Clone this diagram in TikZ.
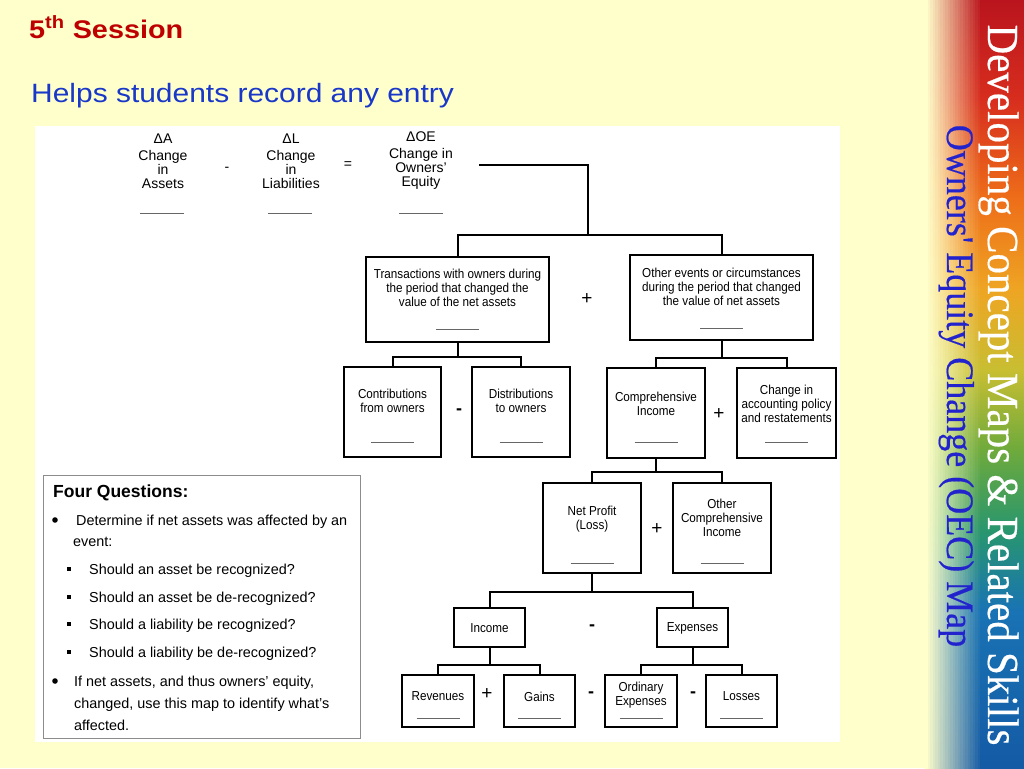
\documentclass[tikz,border=0pt]{standalone}
\usepackage{fontspec}
\usepackage{graphicx}
\setmainfont{Liberation Sans}
\newfontfamily\titlefont[FakeStretch=1.13]{Liberation Sans}
\newfontfamily\diagfont[FakeStretch=0.9]{Liberation Sans}
\newfontfamily\stripfont[FakeBold=0.4]{Liberation Serif}
\usetikzlibrary{calc}
\definecolor{bgY}{RGB}{255,255,204}
\definecolor{titleRed}{RGB}{190,0,0}
\definecolor{helpBlue}{RGB}{25,55,200}
\definecolor{stripBlue}{RGB}{35,35,205}
\definecolor{sA}{RGB}{185,20,30}
\definecolor{sB}{RGB}{215,45,30}
\definecolor{sC}{RGB}{238,110,25}
\definecolor{sD}{RGB}{238,165,35}
\definecolor{sE}{RGB}{200,190,50}
\definecolor{sF}{RGB}{110,170,60}
\definecolor{sG}{RGB}{40,150,110}
\definecolor{sH}{RGB}{25,115,180}
\definecolor{sI}{RGB}{20,90,165}
\pgfdeclareverticalshading{rainbowstrip}{100bp}{color(0bp)=(sI); color(25bp)=(sI); color(35.3bp)=(sH); color(40.5bp)=(sG); color(45.7bp)=(sF); color(50.9bp)=(sE); color(56.1bp)=(sD); color(62bp)=(sC); color(68.5bp)=(sB); color(75bp)=(sA); color(100bp)=(sA)}
\begin{document}
\begin{tikzpicture}[x=1pt,y=-1pt,
  box/.style={draw, line width=2pt, inner sep=0pt},
  conn/.style={line width=2pt},
  lbl/.style={align=center, inner sep=0pt, font=\diagfont\fontsize{13}{14}\selectfont},
  eqlbl/.style={align=center, inner sep=0pt, font=\fontsize{14}{14}\selectfont},
  plus/.style={inner sep=0pt, font=\fontsize{19}{19}\selectfont},
  minus/.style={inner sep=0pt, font=\bfseries\fontsize{18}{18}\selectfont},
  blank/.style={draw=black!60, line width=1pt},
  q/.style={anchor=base west, inner sep=0pt, font=\fontsize{14.4}{17}\selectfont},
]
\useasboundingbox (0,0) rectangle (1024,768);
\fill[bgY] (0,0) rectangle (1024,768);
% right strip
\shade[shading=rainbowstrip] (925,-2) rectangle (1024,770);
\foreach \i in {0,...,21} {
  \fill[bgY, opacity={1-\i/22}] ({925+\i*2.5},-2) rectangle ({927.6+\i*2.5},770);
}
\node[rotate=-90, anchor=base, inner sep=0pt, text=white, font=\stripfont\fontsize{41}{41}\selectfont] (strip1) at (988,385) {\scalebox{1}[1.08]{Developing Concept Maps \& Related Skills}};
\node[rotate=-90, anchor=base, inner sep=0pt, text=stripBlue, font=\stripfont\fontsize{36}{36}\selectfont] (strip2) at (947,386) {\scalebox{1}[1.08]{Owners' Equity Change (OEC) Map}};
% titles
\node[anchor=base west, inner sep=0pt, text=titleRed, font=\titlefont\bfseries\fontsize{25.5}{25.5}\selectfont] (sess) at (29,38) {5\textsuperscript{th} Session};
\node[anchor=base west, inner sep=0pt, text=helpBlue, font=\titlefont\fontsize{26.5}{26.5}\selectfont] (helps) at (31,102) {Helps students record any entry};
% white panel
\fill[white] (35,126) rectangle (840,742);
% top equation
\node[eqlbl] (dA) at (163,161) {ΔA\\[3pt]Change\\in\\Assets};
\node[eqlbl] (dL) at (291,161) {ΔL\\[3pt]Change\\in\\Liabilities};
\node[eqlbl] (dOE) at (421,161) {ΔOE\\[3pt]Change in\\Owners'\\Equity};
\node[eqlbl] (eqminus) at (227,169) {-};
\node[eqlbl] (eqeq) at (348,165) {=};
\draw[blank] (140,213) -- (184,213);
\draw[blank] (268,213) -- (312,213);
\draw[blank] (399,213) -- (443,213);
\coordinate (eqEnd) at (479,165);
\coordinate (topBar) at (588,235);
% boxes
\node[box, minimum width=183pt, minimum height=85pt] (T) at (457.5,299.5) {};
\node[box, minimum width=183pt, minimum height=85pt] (O) at (721.5,297.5) {};
\node[box, minimum width=97pt, minimum height=90pt] (C) at (392.5,412) {};
\node[box, minimum width=98pt, minimum height=90pt] (D) at (521,412) {};
\node[box, minimum width=98pt, minimum height=90pt] (CI) at (656,413) {};
\node[box, minimum width=99pt, minimum height=90pt] (CA) at (786.5,413) {};
\node[box, minimum width=98pt, minimum height=90pt] (NP) at (592,528) {};
\node[box, minimum width=98pt, minimum height=90pt] (OCI) at (722,528) {};
\node[box, minimum width=71pt, minimum height=39pt] (IN) at (489.5,627.5) {};
\node[box, minimum width=71pt, minimum height=39pt] (EX) at (692.5,627.5) {};
\node[box, minimum width=72pt, minimum height=52pt] (RV) at (438,701) {};
\node[box, minimum width=71pt, minimum height=52pt] (GA) at (539.5,701) {};
\node[box, minimum width=72pt, minimum height=52pt] (OE) at (641,701) {};
\node[box, minimum width=71pt, minimum height=52pt] (LO) at (741.5,701) {};
% box texts
\node[lbl] (Tt) at (457.5,288) {Transactions with owners during\\the period that changed the\\value of the net assets};
\node[lbl] (Ot) at (721.5,287) {Other events or circumstances\\during the period that changed\\the value of net assets};
\node[lbl] (Ct) at (392.5,401) {Contributions\\from owners};
\node[lbl] (Dt) at (521,401) {Distributions\\to owners};
\node[lbl] (CIt) at (656,403.5) {Comprehensive\\Income};
\node[lbl] (CAt) at (786.5,404) {Change in\\accounting policy\\and restatements};
\node[lbl] (NPt) at (592,519.5) {Net Profit\\(Loss)};
\node[lbl] (OCIt) at (722,518) {Other\\Comprehensive\\Income};
\node[lbl] (INt) at (489.5,628.5) {Income};
\node[lbl] (EXt) at (692.5,628.5) {Expenses};
\node[lbl] (RVt) at (438,696.5) {Revenues};
\node[lbl] (GAt) at (539.5,696.5) {Gains};
\node[lbl] (OEt) at (641,695.5) {Ordinary\\Expenses};
\node[lbl] (LOt) at (741.5,696.5) {Losses};
% blanks
\draw[blank] (436,329) -- (479,329);
\draw[blank] (700,328) -- (743,328);
\draw[blank] (371,442) -- (414,442);
\draw[blank] (499.5,442) -- (542.5,442);
\draw[blank] (634.5,442) -- (677.5,442);
\draw[blank] (765,442) -- (808,442);
\draw[blank] (570.5,563) -- (613.5,563);
\draw[blank] (700.5,563) -- (743.5,563);
\draw[blank] (416.5,718) -- (459.5,718);
\draw[blank] (518,718) -- (561,718);
\draw[blank] (619.5,718) -- (662.5,718);
\draw[blank] (720,718) -- (763,718);
% operators
\node[plus] (p1) at (587,299) {+};
\node[minus] (m1) at (459,412) {-};
\node[plus] (p2) at (719,414) {+};
\node[plus] (p3) at (657,529) {+};
\node[minus] (m2) at (592,628) {-};
\node[plus] (p4) at (487,694) {+};
\node[minus] (m3) at (591,695) {-};
\node[minus] (m4) at (693,695) {-};
% connectors
\draw[conn] (eqEnd) -| (topBar);
\draw[conn] (T.north) |- (topBar) -| (O.north);
\draw[conn] (T.south) -- ++(0,14) coordinate (tBar);
\draw[conn] (C.north) |- (tBar) -| (D.north);
\draw[conn] (O.south) -- ++(0,17) coordinate (oBar);
\draw[conn] (CI.north) |- (oBar) -| (CA.north);
\draw[conn] (CI.south) -- ++(0,13) coordinate (ciBar);
\draw[conn] (NP.north) |- (ciBar) -| (OCI.north);
\draw[conn] (NP.south) -- ++(0,18) coordinate (npBar);
\draw[conn] (IN.north) |- (npBar) -| (EX.north);
\draw[conn] (IN.south) -- ++(0,17) coordinate (inBar);
\draw[conn] (RV.north) |- (inBar) -| (GA.north);
\draw[conn] (EX.south) -- ++(0,17) coordinate (exBar);
\draw[conn] (OE.north) |- (exBar) -| (LO.north);
% four questions box
\node[draw=black!45, line width=0.8pt, minimum width=317pt, minimum height=263pt, inner sep=0pt] (FQ) at (201.5,606.5) {};
\node[anchor=base west, inner sep=0pt, font=\bfseries\fontsize{17.5}{20}\selectfont] (fqh) at (53,497) {Four Questions:};
\fill (55,520) circle (2.8);
\fill (55,681) circle (2.8);
\fill (67.3,567.3) rectangle ++(3.4,3.4);
\fill (67.3,595.3) rectangle ++(3.4,3.4);
\fill (67.3,622.3) rectangle ++(3.4,3.4);
\fill (67.3,650.3) rectangle ++(3.4,3.4);
\node[q] (q1) at (76,525) {Determine if net assets was affected by an};
\node[q] (q1b) at (73,546) {event:};
\node[q] (q2) at (89,574) {Should an asset be recognized?};
\node[q] (q3) at (89,602) {Should an asset be de-recognized?};
\node[q] (q4) at (89,629) {Should a liability be recognized?};
\node[q] (q5) at (89,657) {Should a liability be de-recognized?};
\node[q] (q6) at (74,686) {If net assets, and thus owners' equity,};
\node[q] (q6b) at (74,708) {changed, use this map to identify what's};
\node[q] (q6c) at (74,730) {affected.};
\end{tikzpicture}
\end{document}
